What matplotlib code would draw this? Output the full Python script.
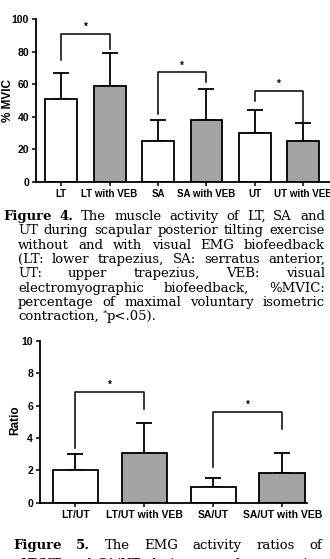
import numpy as np
import matplotlib
matplotlib.use("Agg")
import matplotlib.pyplot as plt

W, H = 330, 559

muscles = ["LT", "LT with VEB", "SA", "SA with VEB", "UT", "UT with VEB"]
mvic_mean = [51, 59, 25, 38, 30, 25]
mvic_sd = [16, 20, 13, 19, 14, 11.5]
# (left bar, right bar, bracket top, left leg end, right leg end)
mvic_sig = [(0, 1, 91, 75, 81.5), (2, 3, 67.5, 42, 61.5), (4, 5, 56, 50, 37)]

ratios = ["LT/UT", "LT/UT with VEB", "SA/UT", "SA/UT with VEB"]
ratio_mean = [2.0, 3.05, 1.0, 1.86]
ratio_sd = [1.0, 1.88, 0.55, 1.24]
ratio_sig = [(0, 1, 6.87, 3.36, 5.8), (2, 3, 5.63, 2.23, 4.56)]

cap4 = [
    "Figure 4. The muscle activity of LT, SA and",
    "UT during scapular posterior tilting exercise",
    "without and with visual EMG biofeedback",
    "(LT: lower trapezius, SA: serratus anterior,",
    "UT: upper trapezius, VEB: visual",
    "electromyographic biofeedback, %MVIC:",
    "percentage of maximal voluntary isometric",
]
cap4_last = "contraction,"
cap5 = [
    "Figure 5. The EMG activity ratios of",
    "LT/UT and SA/UT during scapular posterior",
]

GRAY = "#a3a3a3"
SANS = "Liberation Sans"
NARROW = ["Liberation Sans Narrow", "Liberation Sans"]
SERIF = "DejaVu Serif"

fig = plt.figure(figsize=(W / 100, H / 100), dpi=100)


def px_axes(x0, y0, x1, y1):
    # pixel box (top-left origin) -> figure axes
    return fig.add_axes([x0 / W, 1 - y1 / H, (x1 - x0) / W, (y1 - y0) / H])


def bar_panel(ax, labels, means, sds, sig, lbl_fs):
    x = np.arange(len(labels))
    fills = ["white", GRAY] * (len(labels) // 2)
    ax.errorbar(x, means, yerr=[np.zeros(len(sds)), sds], fmt="none",
                ecolor="black", elinewidth=1.3, capsize=6, capthick=1.3, zorder=1)
    ax.bar(x, means, width=0.66, color=fills, edgecolor="black",
           linewidth=1.3, zorder=2)
    for a, b, top, la, lb in sig:
        ax.plot([a, a, b, b], [la, top, top, lb], color="black", lw=1.1,
                clip_on=False, zorder=3)
        ax.text((a + b) / 2, top + (ax.get_ylim()[1] * 0.01), "*", ha="center",
                va="bottom", fontsize=7, family=SANS, fontweight="bold")
    ax.set_xticks(x)
    ax.set_xticklabels(labels, fontsize=lbl_fs, family=SANS, fontweight="bold")
    for t in ax.get_yticklabels():
        t.set_fontsize(7.5)
        t.set_family(NARROW)
        t.set_fontweight("bold")
    for s in ["top", "right"]:
        ax.spines[s].set_visible(False)
    for s in ["left", "bottom"]:
        ax.spines[s].set_linewidth(1.3)
    ax.tick_params(axis="both", width=1.1, length=3, pad=2)


# ---- Figure 4 chart
ax1 = px_axes(36, 19, 330, 182)
ax1.set_xlim(-0.52, 5.55)
ax1.set_ylim(0, 100)
ax1.set_yticks([0, 20, 40, 60, 80, 100])
bar_panel(ax1, muscles, mvic_mean, mvic_sd, mvic_sig, 7)
ax1.set_ylabel("% MVIC", fontsize=8.5, family=SANS, fontweight="bold", va="center")
ax1.yaxis.set_label_coords((8.5 - 36) / 294, 0.5)

# ---- Figure 5 chart
ax2 = px_axes(40, 341, 307, 502.7)
ax2.set_xlim(-0.515, 3.36)
ax2.set_ylim(0, 10)
ax2.set_yticks([0, 2, 4, 6, 8, 10])
bar_panel(ax2, ratios, ratio_mean, ratio_sd, ratio_sig, 7.5)
ax2.set_ylabel("Ratio", fontsize=8.5, family=SANS, fontweight="bold", va="center")
ax2.yaxis.set_label_coords((15 - 40) / 267, 0.51)

# ---- captions (justified by hand)
renderer = fig.canvas.get_renderer()
CAP_FS = 9.5


def put_words(words, x0, x1, y, justify=True):
    objs = []
    for w in words:
        bold = w in ("Figure", "4.", "5.")
        objs.append(fig.text(0, 1 - y / H, w, fontsize=CAP_FS, family=SERIF,
                             fontweight="bold" if bold else "normal",
                             va="baseline", ha="left"))
    widths = [o.get_window_extent(renderer).width for o in objs]
    if justify and len(words) > 1:
        gap = (x1 - x0 - sum(widths)) / (len(words) - 1)
    else:
        gap = 4
    x = x0
    for o, w in zip(objs, widths):
        o.set_x(x / W)
        x += w + gap
    return x - gap


y = 220
for i, line in enumerate(cap4):
    put_words(line.split(), 3 if i == 0 else 18, 325, y)
    y += 14.3
xe = put_words([cap4_last], 18, 325, y, justify=False)
fig.text((xe + 4) / W, 1 - (y - 5) / H, "*", fontsize=6, family=SERIF,
         va="baseline", ha="left")
fig.text((xe + 8) / W, 1 - y / H, "p<.05).", fontsize=CAP_FS, family=SERIF,
         va="baseline", ha="left")

put_words(cap5[0].split(), 13, 322, 549)
put_words(cap5[1].split(), 20, 322, 568)

fig.savefig("out.png", dpi=100)
